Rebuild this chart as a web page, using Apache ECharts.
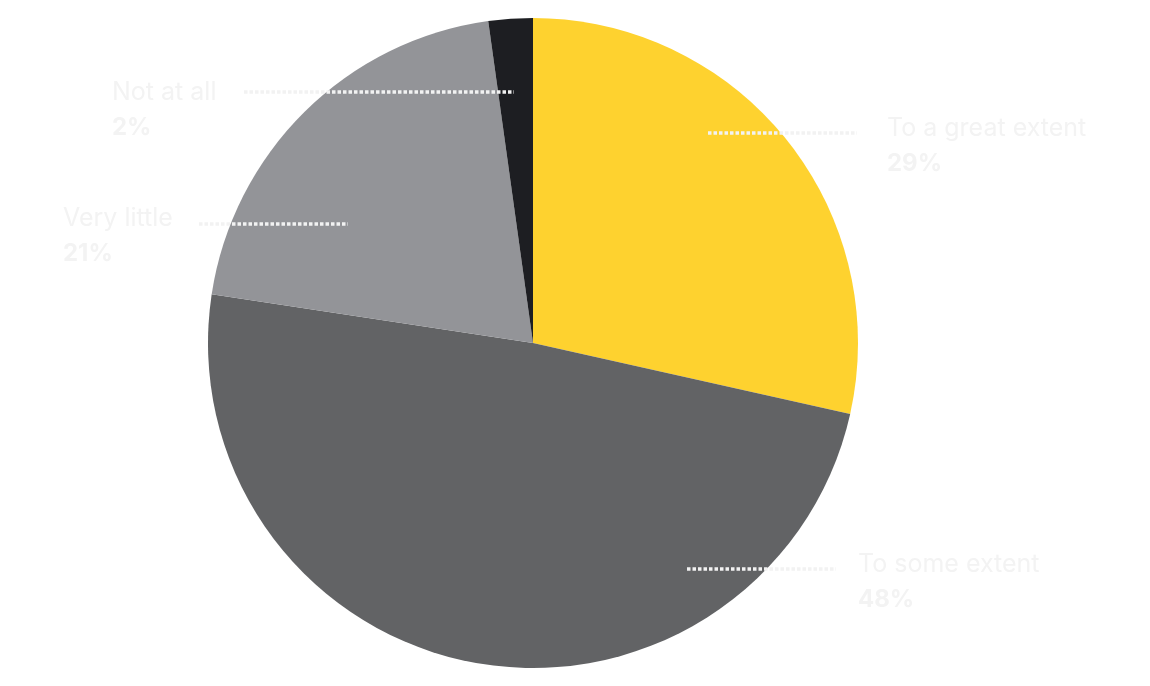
<!DOCTYPE html>
<html>
<head>
<meta charset="utf-8">
<script src="https://cdn.jsdelivr.net/npm/echarts@6/dist/echarts.min.js"></script>
<style>
html,body{margin:0;padding:0;background:#ffffff;}
#chart{width:1150px;height:686px;}
</style>
</head>
<body>
<div id="chart"></div>
<script>
const categories = ['To a great extent', 'To some extent', 'Very little', 'Not at all'];
const values = [28.5, 48.9, 20.4, 2.2];
const percentLabels = ['29%', '48%', '21%', '2%'];
const colors = ['#FED22F', '#626365', '#939498', '#1D1E22'];

// label placement: [textX, textTop, lineY, lineStartX, lineEndX]
const labelPlaces = [
  [887, 110, 133, 708, 857],
  [858, 546, 569, 687, 836],
  [63, 200, 224, 199, 348],
  [112, 74, 92, 244, 514]
];

const pieData = categories.map((c, i) => ({name: c, value: values[i], itemStyle: {color: colors[i]}}));

const chart = echarts.init(document.getElementById('chart'), null, {renderer: 'canvas'});
chart.setOption({
  animation: false,
  backgroundColor: '#ffffff',
  series: [{
    type: 'pie',
    z: 2,
    center: [533, 343],
    radius: 325,
    startAngle: 90,
    clockwise: true,
    silent: true,
    data: pieData,
    label: {show: false},
    labelLine: {show: false}
  }, {
    type: 'pie',
    z: 5,
    center: [533, 343],
    radius: 325,
    startAngle: 90,
    clockwise: true,
    silent: true,
    data: categories.map((c, i) => ({name: c, value: values[i]})),
    itemStyle: {color: 'rgba(0,0,0,0)'},
    label: {
      show: true,
      formatter: p => '{n|' + p.name + '}\n{p|' + percentLabels[p.dataIndex] + '}',
      rich: {
        n: {fontFamily: 'Inter', fontSize: 25, color: '#f3f3f3', lineHeight: 36},
        p: {fontFamily: 'Inter', fontSize: 24, fontWeight: 'bold', color: '#f3f3f3', lineHeight: 36}
      }
    },
    labelLine: {
      show: true,
      lineStyle: {color: '#f2f2f2', width: 3.5, type: [3.5, 2]}
    },
    labelLayout: function (params) {
      const pl = labelPlaces[params.dataIndex];
      return {
        x: pl[0], y: pl[1], align: 'left', verticalAlign: 'top',
        labelLinePoints: [[pl[3], pl[2]], [(pl[3] + pl[4]) / 2, pl[2]], [pl[4], pl[2]]]
      };
    }
  }]
});
</script>
</body>
</html>
